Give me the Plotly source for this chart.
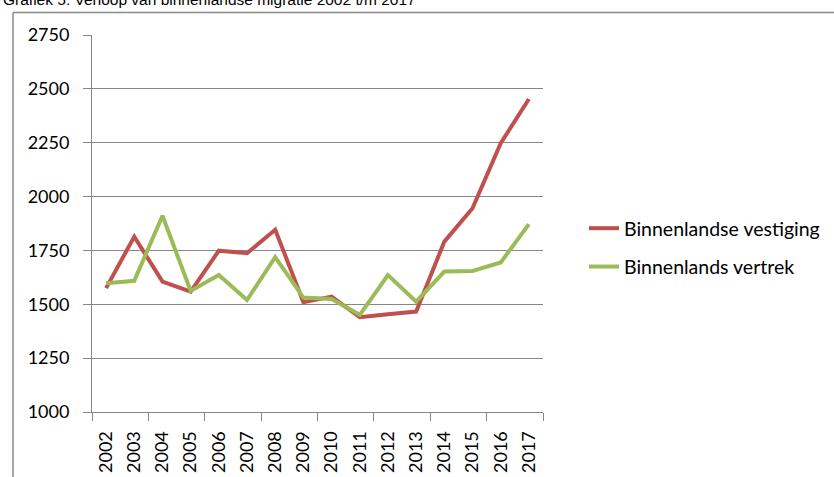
import plotly.graph_objects as go

years = list(range(2002, 2018))
vestiging = [1575, 1814, 1605, 1559, 1749, 1737, 1846, 1510, 1536, 1440, 1454, 1466, 1791, 1946, 2248, 2453]
vertrek = [1598, 1609, 1911, 1562, 1636, 1520, 1719, 1531, 1525, 1451, 1636, 1512, 1652, 1655, 1694, 1872]
series_names = ["Binnenlandse vestiging", "Binnenlands vertrek"]
y_ticks = [1000, 1250, 1500, 1750, 2000, 2250, 2500, 2750]
title_text = "Grafiek 5: Verloop van binnenlandse migratie 2002 t/m 2017"

W, H = 834, 477
L, R, T, B = 92, 291, 35, 65
pw, ph = W - L - R, H - T - B

def px_x(p):
    return (p - L) / pw

def px_y(p):
    return (H - B - p) / ph

fig = go.Figure()
fig.add_trace(go.Scatter(x=years, y=vestiging, mode="lines", name=series_names[0],
                         line=dict(color="#C0504D", width=4), legendgroup="a"))
fig.add_trace(go.Scatter(x=years, y=vertrek, mode="lines", name=series_names[1],
                         line=dict(color="#9BBB59", width=4), legendgroup="b"))

axis_font = dict(family="Lato, Liberation Sans, sans-serif", size=18, color="#000000")

fig.update_layout(
    width=W, height=H,
    margin=dict(l=L, r=R, t=T, b=B, autoexpand=False),
    paper_bgcolor="white", plot_bgcolor="white",
    showlegend=True,
    legend=dict(x=px_x(584), y=px_y(209), xanchor="left", yanchor="top",
                font=dict(family="Lato, Liberation Sans, sans-serif", size=19.5, color="#000000"),
                tracegroupgap=10, bgcolor="rgba(0,0,0,0)"),
    xaxis=dict(range=[2001.5, 2017.5], tickmode="array", tickvals=years,
               ticktext=[str(y) for y in years], tickangle=-90, ticks="",
               showgrid=False, zeroline=False, showline=True, linecolor="#868686",
               linewidth=1, tickfont=axis_font, ticklabelstandoff=11,
               minor=dict(tickmode="array", tickvals=[2001.5 + 2 * k for k in range(9)],
                          ticks="outside", ticklen=8, tickcolor="#868686", showgrid=False)),
    yaxis=dict(range=[1000, 2750], tickmode="array", tickvals=y_ticks,
               ticks="outside", ticklen=8, tickcolor="#868686",
               showgrid=True, gridcolor="#878787", gridwidth=1, zeroline=False,
               showline=True, linecolor="#868686", linewidth=1,
               tickfont=axis_font, ticklabelstandoff=10),
)

fig.add_annotation(text=title_text, xref="paper", yref="paper", x=px_x(1), y=1,
                   xanchor="left", yanchor="middle", yshift=T + 1, showarrow=False,
                   font=dict(family="Liberation Sans, Arial, sans-serif",
                             size=15.5, color="#000000"))

# outer chart frame
fig.add_shape(type="line", xref="paper", yref="paper", x0=px_x(13), x1=px_x(900),
              y0=px_y(12.5), y1=px_y(12.5), line=dict(color="#888888", width=1.5))
fig.add_shape(type="line", xref="paper", yref="paper", x0=px_x(13), x1=px_x(13),
              y0=px_y(12.5), y1=px_y(520), line=dict(color="#888888", width=1.5))

fig.write_html("out.html", config={"displayModeBar": False},
               post_script="document.body.style.margin='0';document.body.style.overflow='hidden';")
